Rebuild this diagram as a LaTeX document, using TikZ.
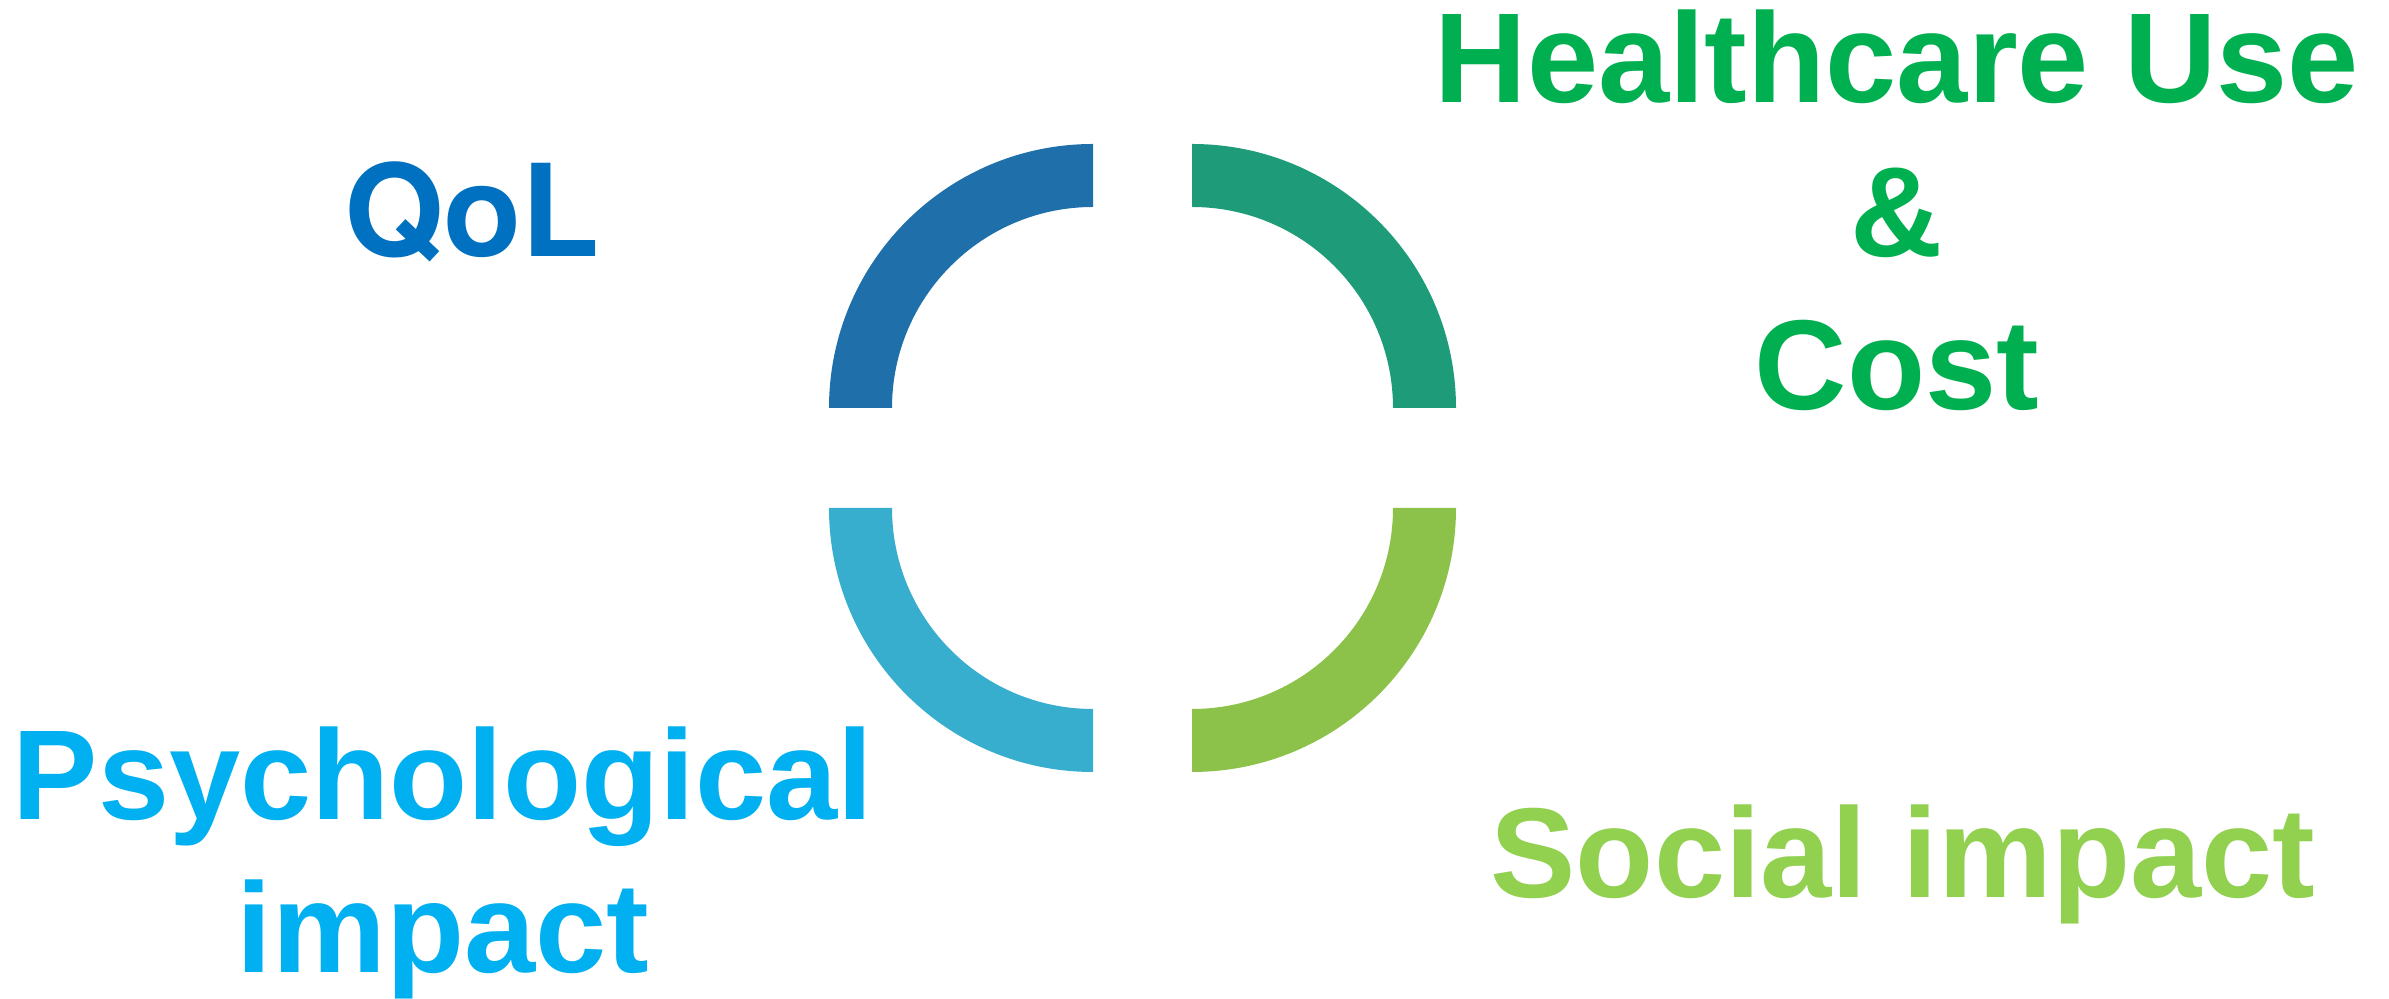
\documentclass[tikz,border=0pt]{standalone}
\usepackage{fontspec}
\setmainfont{Liberation Sans}
\newfontfamily\qfont{TeX Gyre Heros}
\definecolor{arcA}{HTML}{1F70AA}
\definecolor{arcB}{HTML}{1E9B78}
\definecolor{arcC}{HTML}{38AECF}
\definecolor{arcD}{HTML}{8CC14A}
\definecolor{qolc}{HTML}{0070C0}
\definecolor{hcc}{HTML}{00B050}
\definecolor{psyc}{HTML}{00B0F0}
\definecolor{socc}{HTML}{92D050}
\begin{document}
\begin{tikzpicture}
\useasboundingbox (0,0) rectangle (23.89,9.99);
\tikzset{lbl/.style={font=\bfseries\fontsize{36.4pt}{43.8pt}\selectfont, inner sep=0pt, align=center, anchor=base}}
% ring segments
\fill[arcA] (10.93,5.91) ++(180:2.64) arc[start angle=180,end angle=90,radius=2.64] -- ++(0,-0.63) arc[start angle=90,end angle=180,radius=2.01] -- cycle;
\fill[arcB] (11.92,5.91) ++(90:2.64) arc[start angle=90,end angle=0,radius=2.64] -- ++(-0.63,0) arc[start angle=0,end angle=90,radius=2.01] -- cycle;
\fill[arcC] (10.93,4.91) ++(180:2.64) arc[start angle=180,end angle=270,radius=2.64] -- ++(0,0.63) arc[start angle=270,end angle=180,radius=2.01] -- cycle;
\fill[arcD] (11.92,4.91) ++(270:2.64) arc[start angle=270,end angle=360,radius=2.64] -- ++(-0.63,0) arc[start angle=360,end angle=270,radius=2.01] -- cycle;
% labels (base anchor = baseline of the last line)
\node[lbl, text=qolc, font=\qfont\bfseries\fontsize{36.4pt}{43.8pt}\selectfont] (qol) at (4.72,7.42) {QoL};
\node[lbl, text=hcc] (hc) at (18.97,5.89) {Healthcare Use\\\&\\Cost};
\node[lbl, text=psyc] (psy) at (4.43,0.26) {Psychological\\impact};
\node[lbl, text=socc] (soc) at (19.03,1.01) {Social impact};
\end{tikzpicture}
\end{document}
